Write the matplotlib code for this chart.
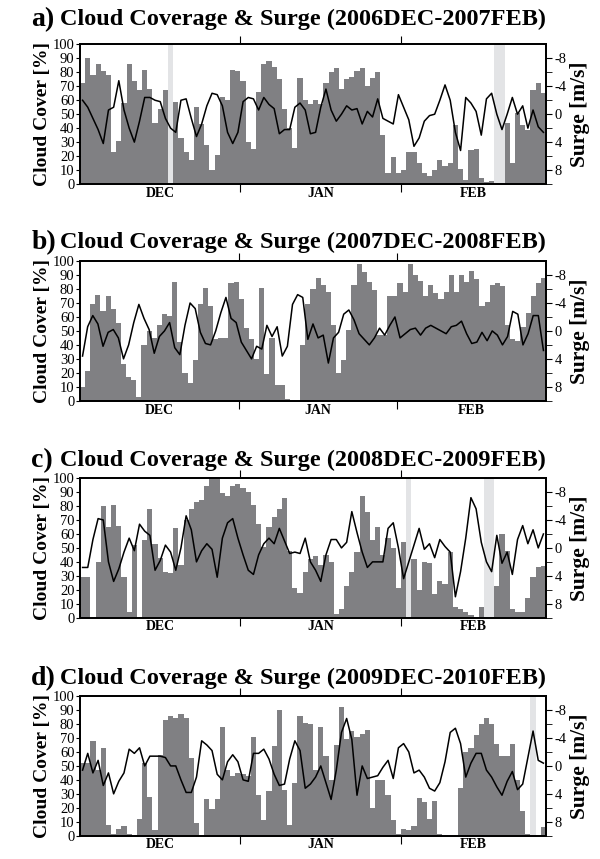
import numpy as np
import matplotlib
matplotlib.use("Agg")
import matplotlib.pyplot as plt

plt.rcParams["font.family"] = ["Liberation Serif", "DejaVu Serif"]
plt.rcParams["axes.unicode_minus"] = False

nan = np.nan

# daily cloud cover [%] and surge [m/s], 1 Dec - end of Feb
cloud_a = [72, 90, 78, 86, 81, 78, 23, 31, 58, 86, 74, 67, 82, 68, 44, 54, 67, nan, 59, 33, 23, 17, 55, 43, 28, 10, 21,
           62, 60, 82, 81, 74, 30, 25, 66, 86, 88, 84, 75, 54, 40, 26, 76, 60, 57, 60, 57, 72, 80, 83, 68, 75, 77, 81, 83, 70, 76, 80,
           35, 8, 19, 8, 10, 23, 23, 15, 8, 6, 10, 17, 13, 15, 42, 11, 3, 24, 25, 4, 1.5, 2, nan, nan, 44, 15, 51, 42, 39, 67, 72, 65]
surge_a = [-2.0, -1.0, 0.6, 2.2, 4.2, -0.6, -1.0, -4.8, -0.6, 2.0, 4.0, 1.0, -2.4, -2.4, -2.0, -1.8, 0.6, 2.0, 2.6, -2.0, -2.2, 0.6, 3.2, 1.4, -1.2, -3.0, -2.8,
           -1.2, 2.6, 4.2, 2.6, -1.8, -2.4, -2.2, -0.6, -2.4, -1.4, -0.8, 2.8, 2.2, 2.2, -1.0, -1.6, -0.6, 2.8, 2.6, -1.0, -3.6, -0.6, 1.0, 0.0, -1.2, -0.6, -0.8, 1.4, -0.4, 0.4, -2.2,
           0.6, 1.0, 1.4, -2.8, -1.0, 0.8, 4.6, 3.4, 1.0, 0.2, 0.0, -2.0, -4.2, -2.0, 2.6, 5.2, -2.4, -1.6, -0.4, 3.0, -2.2, -3.0, 0.0, 2.2, 0.0, -2.4, 0.0, -1.2, 2.0, -0.6, 1.8, 2.6]
gaps_a = [17, 80, 81]

cloud_b = [10, 21, 69, 76, 64, 75, 66, 56, 26, 17, 15, 3, 40, 50, 45, 54, 62, 61, 85, 42, 20, 13, 29, 69, 81, 68, 44,
           45, 45, 84, 85, 73, 52, 44, 30, 81, 19, 45, 11, 11, 1, 0, 0, 40, 69, 80, 88, 83, 78, 54, 20, 29, 51, 83, 98, 92, 85, 79, 47,
           47, 75, 75, 84, 78, 98, 90, 86, 75, 83, 77, 73, 78, 90, 78, 90, 85, 93, 87, 68, 71, 83, 84, 82, 54, 44, 43, 53, 63, 75, 84, 88]
surge_b = [3.6, -0.6, -2.2, -1.0, 2.2, 0.2, -0.2, 1.0, 4.0, 2.0, -1.2, -3.8, -1.8, -0.2, 3.2, 0.8, 0.0, -1.2, 2.4, 3.4, -0.8, -4.0, -3.2, 0.2, 1.8, 2.0, 0.0,
           -2.6, -4.8, -1.8, -1.2, 1.6, 2.8, 4.0, 2.2, 2.6, -0.8, 0.8, -0.6, 3.6, 2.2, -3.8, -5.2, -4.8, 1.2, -1.0, 1.0, 0.6, 4.6, 1.0, 0.2, -2.4, -3.0, -1.6, 0.4, 1.2, 2.0, 1.0, -0.4,
           0.6, -0.8, -2.0, 1.0, 0.4, -0.2, -0.4, 0.6, -0.4, -0.8, -0.4, 0.0, 0.4, -0.6, -0.8, -1.4, 0.4, 1.8, 1.6, 0.2, 1.4, 0.0, 0.6, 2.0, 0.8, -2.8, -2.4, 2.0, 0.4, -2.2, -2.2, 2.8]
gaps_b = []

cloud_c = [29, 29, 0, 40, 80, 65, 81, 66, 29, 4, 52, 0.5, 56, 78, 53, 43, 33, 32, 64, 38, 70, 78, 83, 84, 94, 100, 100,
           89, 87, 94, 96, 93, 90, 81, 67, 51, 65, 72, 78, 86, 48, 21, 18, 33, 42, 44, 38, 45, 40, 3, 6, 23, 33, 47, 87, 76, 56, 65,
           45, 57, 50, 21, 54, nan, 42, 20, 40, 39, 17, 26, 24, 47, 8, 6, 4, 2, 0, 8, nan, nan, 23, 60, 48, 6, 4, 4, 14, 29, 36, 37]
surge_c = [2.8, 2.8, -1.2, -4.2, -4.0, 2.0, 4.8, 3.0, 0.6, -1.4, 0.4, -3.4, -2.4, -1.8, 3.2, 1.8, -0.4, 0.6, 3.2, 0.0, -4.6, -2.6, 2.0, 0.4, -0.6, 0.2, 4.2,
           -1.4, -3.6, -4.2, -1.4, 1.0, 3.2, 3.8, 1.0, -0.6, -1.4, -0.6, -2.8, -1.0, 0.8, 0.6, 0.8, -1.4, 2.0, 3.2, 4.8, 1.0, -1.2, -1.2, 0.0, -0.8, -5.2, -2.2, 0.6, 2.8, 2.0, 2.0,
           2.0, -2.8, -3.6, 0.0, 4.4, 2.0, -0.4, -2.8, 0.2, -0.6, 1.4, -1.2, -0.2, 0.6, 7.0, 3.4, -1.4, -7.2, -5.6, -0.8, 2.0, 3.4, -1.8, 2.2, 0.6, 3.8, -1.2, -3.2, -0.6, -2.6, 0.0, -2.0]
gaps_c = [63, 78, 79]

cloud_d = [52, 52, 68, 47, 63, 8, 1, 5, 7, 1, 0.5, 12, 52, 28, 4, 58, 83, 86, 84, 87, 84, 56, 9, 0, 26, 19, 26,
           78, 47, 43, 45, 44, 43, 71, 29, 11, 32, 64, 90, 33, 8, 38, 86, 81, 80, 47, 78, 57, 40, 65, 92, 69, 75, 71, 73, 76, 20, 40,
           40, 29, 11, 1, 5, 4, 7, 27, 24, 12, 25, 1, 0.5, 0, 0, 34, 60, 63, 72, 80, 84, 80, 66, 57, 57, 66, 40, 18, 1, nan, 0.5, 6]
surge_d = [0.6, -1.8, 1.0, -0.8, 2.8, 1.0, 4.0, 2.2, 1.0, -2.4, -1.8, -2.6, 0.0, -1.4, -1.4, -1.4, -1.2, 0.0, 0.0, 2.0, 3.8, 3.8, 1.6, -3.6, -3.0, -2.2, 1.2,
           2.0, -0.6, -1.6, -0.6, 2.0, 2.2, -1.8, -1.8, -2.4, -1.0, 1.2, 2.8, 2.6, -1.0, -3.6, -2.2, 3.2, 2.6, 1.6, 0.0, 2.4, 4.8, 0.6, -4.8, -6.8, -3.8, 4.2, 0.0, 1.8, 1.6, 1.4,
           0.2, -0.8, 1.8, -2.6, -3.2, -2.0, 1.0, 0.6, 1.6, 3.2, 3.6, 2.4, -0.6, -4.8, -5.4, -3.2, 1.6, -0.4, -1.8, -1.8, 0.6, 1.6, 3.0, 4.2, 2.2, 0.8, 3.4, 2.6, -1.2, -5.0, -0.8, -0.4]
gaps_d = [87]

panels = [("a)", "2006DEC-2007FEB", cloud_a, surge_a, gaps_a),
          ("b)", "2007DEC-2008FEB", cloud_b, surge_b, gaps_b),
          ("c)", "2008DEC-2009FEB", cloud_c, surge_c, gaps_c),
          ("d)", "2009DEC-2010FEB", cloud_d, surge_d, gaps_d)]

months = ["DEC", "JAN", "FEB"]
bottoms = [0.7858, 0.5335, 0.2809, 0.0271]
title_y = [0.977, 0.718, 0.464, 0.210]

fig = plt.figure(figsize=(6, 8.59), dpi=100)

for (tag, period, cloud, surge, gaps), b, ty in zip(panels, bottoms, title_y):
    n = len(cloud)
    days = np.arange(n)
    ax = fig.add_axes([0.1333, b, 0.7767, 0.1625])
    for g in gaps:
        ax.axvspan(g, g + 1, color="#e3e4e6", lw=0)
    ax.bar(days, cloud, width=1.0, align="edge", color="#808083", lw=0)
    ax.set_xlim(0, n)
    ax.set_ylim(0, 100)
    ax.set_yticks(range(0, 101, 10))
    ax.tick_params(axis="y", direction="out", length=3, labelsize=10.5, pad=1)
    ax.set_ylabel("Cloud Cover [%]", fontsize=14, fontweight="bold", labelpad=1)

    # month boundaries and month names
    ax.set_xticks([31, 62])
    ax.set_xticklabels([])
    ax.set_xticks([15.5, 46.5, 62 + (n - 62) / 2], minor=True)
    ax.set_xticklabels(months, minor=True, fontsize=10, fontweight="bold")
    ax.tick_params(axis="x", which="major", direction="out", length=6, top=True)
    ax.tick_params(axis="x", which="minor", length=0, pad=2)

    ax2 = ax.twinx()
    ax2.plot(days + 0.5, surge, color="black", lw=1.1)
    ax2.set_ylim(10, -10)
    ax2.set_yticks([-8, -4, 0, 4, 8])
    ax2.set_yticks([-6, -2, 2, 6, 10], minor=True)
    ax2.tick_params(axis="y", which="both", direction="out", length=4, labelsize=10.5, pad=2)
    ax2.set_ylabel("Surge [m/s]", fontsize=15.5, fontweight="bold", labelpad=3)

    for a in (ax, ax2):
        for s in a.spines.values():
            s.set_linewidth(1.3)

    fig.text(0.052, ty, tag, fontsize=20, fontweight="bold", va="center")
    fig.text(0.1, ty, "Cloud Coverage & Surge (" + period + ")", fontsize=17.5,
             fontweight="bold", va="center")

fig.savefig("out.png", dpi=100)
